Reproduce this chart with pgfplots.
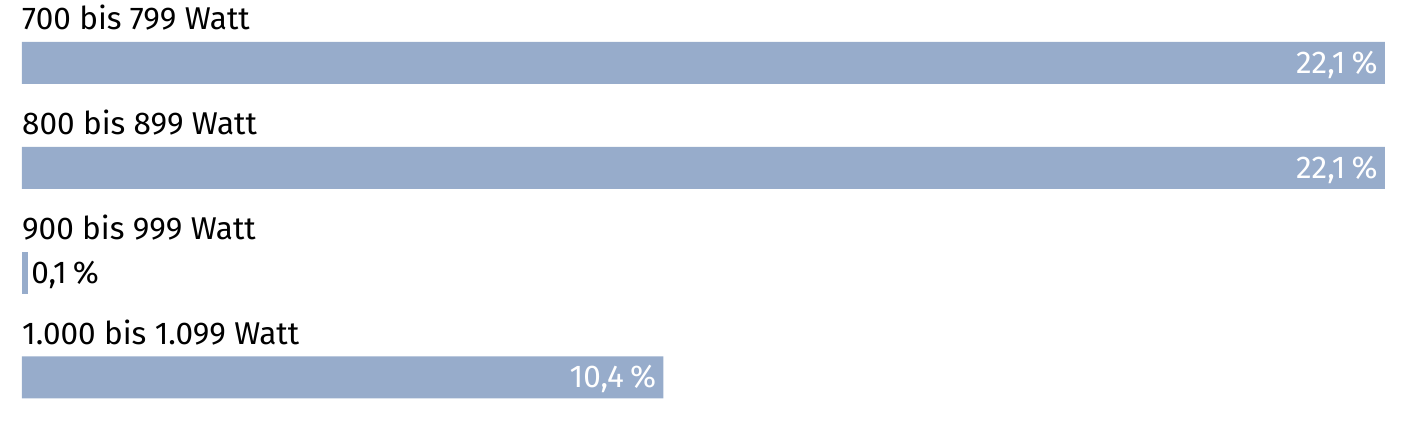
\documentclass[border=0pt]{standalone}
\usepackage{pgfplots}
\pgfplotsset{compat=1.18}
\usepackage{fontspec}
\setmainfont{Fira Sans}
\definecolor{barblue}{HTML}{97ACCB}
\newcommand{\pct}{\hspace{0.2em}\%}
\begin{document}
\begin{tikzpicture}
\begin{axis}[
  scale only axis,
  width=1404pt, height=424pt,
  xmin=-0.3567, xmax=22.41,
  ymin=-0.601, ymax=3.444,
  y dir=reverse,
  hide axis,
  clip=false,
  xbar, bar width=42pt, bar shift=0pt,
  point meta=explicit symbolic,
  nodes near coords={\pgfplotspointmeta},
]
\addplot[fill=barblue, draw=none,
  every node near coord/.append style={anchor=base east, text=white, xshift=-7pt, yshift=-10.5pt, inner sep=0pt, font=\fontsize{31.5}{36}\selectfont}]
  coordinates {(22.1,0) [22,1\pct] (22.1,1) [22,1\pct] (10.4,3) [10,4\pct]};
\addplot[fill=barblue, draw=none,
  every node near coord/.append style={anchor=base west, text=black, xshift=3pt, yshift=-10.5pt, inner sep=0pt, font=\fontsize{31.5}{36}\selectfont}]
  coordinates {(0.1,2) [0,1\pct]};
\foreach \k/\t in {0/700 bis 799 Watt, 1/800 bis 899 Watt, 2/900 bis 999 Watt, 3/1.000 bis 1.099 Watt}{
  \edef\tmp{\noexpand\node[anchor=base west, inner sep=0pt, font=\noexpand\fontsize{31.5}{36}\noexpand\selectfont, yshift=33pt] at (axis cs:0,\k) {\t};}
  \tmp
}
\end{axis}
\path (current axis.south west) rectangle (current axis.north east);
\end{tikzpicture}
\end{document}
